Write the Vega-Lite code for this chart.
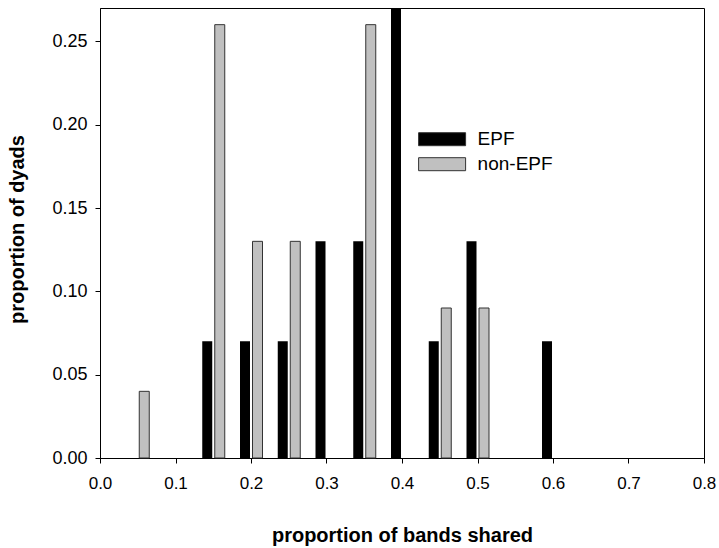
{
  "$schema": "https://vega.github.io/schema/vega-lite/v6.json",
  "width": 604,
  "height": 450,
  "autosize": {"type": "none"},
  "padding": {"left": 100, "top": 8, "right": 15, "bottom": 90},
  "config": {
    "view": {"stroke": "#000", "strokeWidth": 1},
    "font": "Liberation Sans",
    "axis": {
      "grid": false,
      "domainColor": "#000",
      "tickColor": "#000",
      "labelColor": "#000",
      "titleColor": "#000",
      "tickSize": 5,
      "labelFlush": false,
      "labelFont": "Liberation Sans",
      "titleFont": "Liberation Sans"
    },
    "legend": {"labelFont": "Liberation Sans"}
  },
  "data": {
    "values": [
      {"bands": 0.15, "group": "EPF", "proportion": 0.07},
      {"bands": 0.2, "group": "EPF", "proportion": 0.07},
      {"bands": 0.25, "group": "EPF", "proportion": 0.07},
      {"bands": 0.3, "group": "EPF", "proportion": 0.13},
      {"bands": 0.35, "group": "EPF", "proportion": 0.13},
      {"bands": 0.4, "group": "EPF", "proportion": 0.27},
      {"bands": 0.45, "group": "EPF", "proportion": 0.07},
      {"bands": 0.5, "group": "EPF", "proportion": 0.13},
      {"bands": 0.6, "group": "EPF", "proportion": 0.07},
      {"bands": 0.05, "group": "non-EPF", "proportion": 0.04},
      {"bands": 0.15, "group": "non-EPF", "proportion": 0.26},
      {"bands": 0.2, "group": "non-EPF", "proportion": 0.13},
      {"bands": 0.25, "group": "non-EPF", "proportion": 0.13},
      {"bands": 0.35, "group": "non-EPF", "proportion": 0.26},
      {"bands": 0.45, "group": "non-EPF", "proportion": 0.09},
      {"bands": 0.5, "group": "non-EPF", "proportion": 0.09}
    ]
  },
  "encoding": {
    "x": {
      "field": "bands",
      "type": "quantitative",
      "scale": {"domain": [0, 0.8], "nice": false, "padding": 0},
      "axis": {
        "values": [0, 0.1, 0.2, 0.3, 0.4, 0.5, 0.6, 0.7, 0.8],
        "format": ".1f",
        "labelFontSize": 17,
        "labelPadding": 12,
        "labelFlush": false,
        "title": "proportion of bands shared",
        "titleFontSize": 20,
        "titleFontWeight": "bold",
        "titleBaseline": "alphabetic",
        "titleY": 83
      }
    },
    "y": {
      "field": "proportion",
      "type": "quantitative",
      "scale": {"domain": [0, 0.27], "nice": false, "padding": 0},
      "axis": {
        "values": [0, 0.05, 0.1, 0.15, 0.2, 0.25],
        "format": ".2f",
        "labelFontSize": 18,
        "labelPadding": 8,
        "labelFlush": false,
        "title": "proportion of dyads",
        "titleFontSize": 20,
        "titleFontWeight": "bold",
        "titleAngle": -90,
        "titleBaseline": "alphabetic",
        "titleX": -77,
        "titleY": 221
      }
    },
    "color": {
      "field": "group",
      "type": "nominal",
      "scale": {"domain": ["EPF", "non-EPF"], "range": ["#000000", "#c0c0c0"]},
      "legend": {
        "title": null,
        "orient": "none",
        "legendX": 328.6,
        "legendY": 117.7,
        "padding": 0,
        "symbolType": "M-1.808,-0.5L1.808,-0.5L1.808,0.5L-1.808,0.5Z",
        "symbolSize": 676,
        "symbolStrokeColor": "#333",
        "symbolStrokeWidth": 1,
        "symbolOpacity": 1,
        "labelFontSize": 19,
        "labelOffset": 22,
        "rowPadding": 1
      }
    }
  },
  "layer": [
    {
      "transform": [{"filter": "datum.group === 'EPF'"}],
      "mark": {"type": "bar", "width": 10, "xOffset": -6}
    },
    {
      "transform": [{"filter": "datum.group === 'non-EPF'"}],
      "mark": {"type": "bar", "width": 10, "xOffset": 6.5, "stroke": "#333", "strokeWidth": 1}
    }
  ]
}
